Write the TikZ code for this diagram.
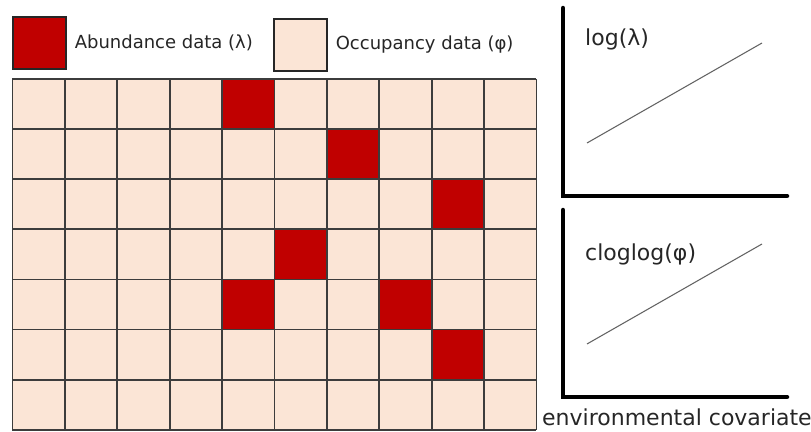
\documentclass[tikz,border=0pt]{standalone}
\usepackage{fontspec}
\setmainfont{DejaVu Sans}
\usetikzlibrary{positioning,math}
\definecolor{abund}{HTML}{C00000}
\definecolor{occup}{HTML}{FBE5D6}
\definecolor{gridline}{HTML}{3C3C3C}
\tikzset{
keybox/.style={draw=black!85,line width=1.2pt,minimum width=53pt,minimum height=52pt,inner sep=0pt},
keytext/.style={font=\fontsize{18}{20}\selectfont,text=black!85,inner sep=0pt},
axis/.style={line width=4.5pt,line cap=round},
trend/.style={line width=1.1pt,draw=black!60},
lab/.style={font=\fontsize{22}{24}\selectfont,text=black!85,inner sep=0pt,anchor=base west}
}

\begin{document}
\begin{tikzpicture}[x=1pt,y=-1pt]
	\tikzmath{\w = 52.4; \h = 50.1; \gx = 12.4; \gy = 79;} % cell size, grid corner
	\useasboundingbox (0,0) rectangle (811,431);

	% key
	\node[keybox,fill=abund] (keyA) at (39.5,43) {};
	\node[keytext,right=8pt of keyA] (keyAtext) {Abundance data (λ)};
	\node[keybox,fill=occup] (keyO) at (300.5,45) {};
	\node[keytext,right=8pt of keyO] (keyOtext) {Occupancy data (φ)};

	% cells
	\fill[occup] (\gx,\gy) rectangle ++(10*\w,7*\h);
	\foreach \c/\r in {4/0,6/1,8/2,5/3,4/4,7/4,8/5}{ \fill[abund] (\gx+\c*\w,\gy+\r*\h) rectangle ++(\w,\h);}

	% grid lines
	\foreach \i in {0,...,10}{ \draw[gridline,line width=1.8pt] (\gx+\i*\w,\gy) -- ++(0,7*\h);}
	\foreach \j in {0,...,7}{ \draw[gridline,line width=1.8pt] (\gx,\gy+\j*\h) -- ++(10*\w,0);}

	% log(lambda) plot
	\draw[axis] (563,8) -- (563,196) -- (787,196);
	\draw[trend] (587,143) -- (762,43);
	\node[lab] (logLab) at (585,45) {log(λ)};

	% cloglog(phi) plot
	\draw[axis] (563,210) -- (563,397) -- (787,397);
	\draw[trend] (587,344) -- (762,244);
	\node[lab] (cloglogLab) at (585,260) {cloglog(φ)};
	\node[lab] (covLab) at (542,425) {environmental covariate};
\end{tikzpicture}
\end{document}
